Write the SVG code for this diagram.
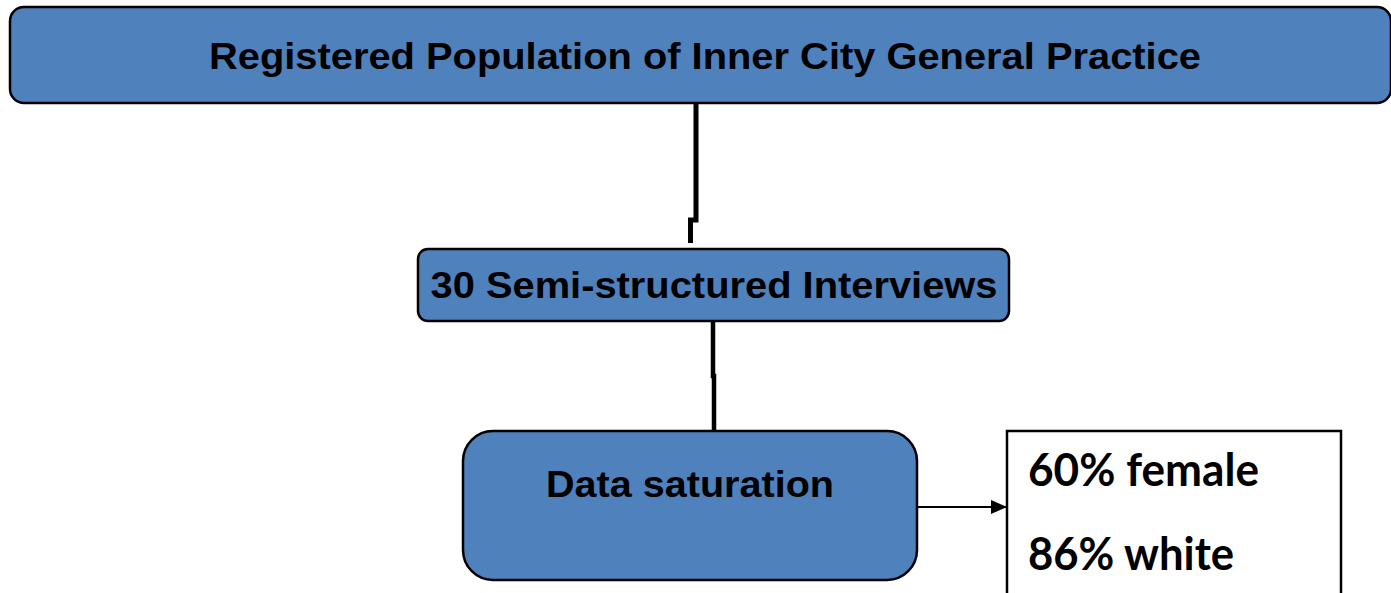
<svg xmlns="http://www.w3.org/2000/svg" width="1391" height="593" viewBox="0 0 1391 593">
<style>
.box{fill:#4F81BD;stroke:#000;stroke-width:2.5}
.lbl{font-family:"Liberation Sans",Arial,sans-serif;font-weight:bold;font-size:37px;fill:#000}
.cal{font-family:Lato,"Open Sans",sans-serif;font-weight:bold;font-size:46px;fill:#000}
.conn{fill:none;stroke:#000}
</style>
<defs>
<marker id="arr" markerWidth="16" markerHeight="14" refX="15" refY="7" orient="auto" markerUnits="userSpaceOnUse">
<path d="M0,0 L16,7 L0,14 Z" fill="#000"/>
</marker>
</defs>
<rect width="1391" height="593" fill="#fff"/>
<g id="connectors">
<path class="conn" stroke-width="5" d="M696,103 V220 H690.5 V243"/>
<path class="conn" stroke-width="4.5" d="M713,321 V376 H714 V431"/>
<path class="conn" stroke-width="2" d="M917,507 H1006" marker-end="url(#arr)"/>
</g>
<g id="node-population">
<rect class="box" x="10" y="7" width="1381" height="96" rx="14"/>
<text class="lbl" x="705" y="69" text-anchor="middle" textLength="992" lengthAdjust="spacingAndGlyphs">Registered Population of Inner City General Practice</text>
</g>
<g id="node-interviews">
<rect class="box" x="418" y="249" width="591" height="72" rx="10"/>
<text class="lbl" x="714" y="298" text-anchor="middle" textLength="567" lengthAdjust="spacingAndGlyphs">30 Semi-structured Interviews</text>
</g>
<g id="node-saturation">
<rect class="box" x="463" y="431" width="454" height="149" rx="30"/>
<text class="lbl" x="690" y="497" text-anchor="middle" textLength="288" lengthAdjust="spacingAndGlyphs">Data saturation</text>
</g>
<g id="node-demographics">
<rect x="1007" y="431" width="334" height="180" fill="#fff" stroke="#000" stroke-width="2.5"/>
<text class="cal" x="1028" y="486" textLength="231" lengthAdjust="spacingAndGlyphs">60% female</text>
<text class="cal" x="1028" y="570" textLength="206" lengthAdjust="spacingAndGlyphs">86% white</text>
</g>
</svg>
